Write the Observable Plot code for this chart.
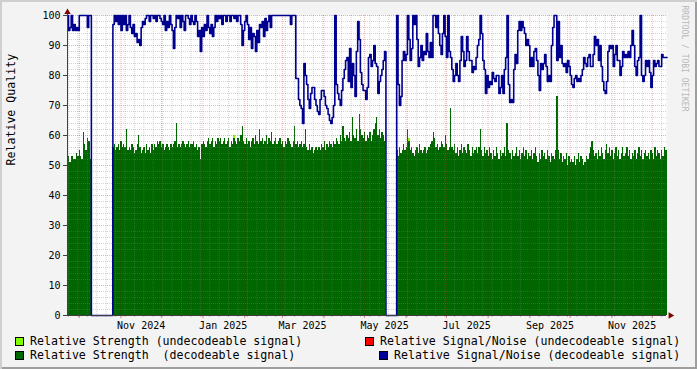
<!DOCTYPE html>
<html><head><meta charset="utf-8">
<script src="https://cdn.jsdelivr.net/npm/d3@7"></script>
<script src="https://cdn.jsdelivr.net/npm/@observablehq/plot@0.6"></script>
<style>
html,body{margin:0;padding:0;background:#f3f3f3;}
#wrap{position:relative;width:697px;height:369px;background:#f3f3f3;overflow:hidden;font-family:"DejaVu Sans Mono",monospace;color:#000;}
#wrap svg{display:block;}
.border{position:absolute;left:0;top:0;width:697px;height:369px;pointer-events:none;box-shadow:inset 2px 2px 0 #cfcfcf, inset -2px -2px 0 #9e9e9e;}
.sw{position:absolute;width:7px;height:7px;border:1px solid #000;}
.lt{position:absolute;white-space:pre;font-size:11.6px;line-height:14px;}
</style></head>
<body>
<div id="wrap"><div id="chart"></div><div id="legend"></div><div class="border"></div></div>
<script>
// ---- data (one value per day, starting 2024-09-22) ----
const DAY0 = Date.UTC(2024, 8, 22);
const strength = [
 52,53,51,53,53,52,52,54,53,55, 53,52,61,57,55,59,58,52,
 0,0,0,0,0,0,0,0,0,0,0,0,0,0,0,0,
 56,57,55,56,57,55,58,56,57,56, 62,55,56,55,57,56,54,55,57,60,
 56,54,55,56,54,57,55,56,54,57, 55,57,56,58,57,58,56,57,55,56,
 57,56,55,57,56,57,58,64,56,57, 56,57,58,57,56,57,58,56,57,57,
 58,56,57,55,56,52,57,58,57,56, 58,59,57,58,59,56,58,57,59,58,
 59,57,58,59,57,58,59,56,58,57, 59,58,57,59,58,60,63,58,57,59,
 57,58,56,
 58,59,57,60,58,57,62,58,59,57, 58,60,57,59,58,61,57,58,59,57,
 58,59,57,58,56,58,57,59,58,57, 56,58,63,57,58,56,57,58,56,57,
 62,56,55,57,55,56,54,55,56,55, 56,55,57,56,58,55,57,56,58,57,
 56,58,57,59,58,57,60,58,63,59, 58,60,59,61,58,66,60,59,62,58,
 67,62,60,59,61,58,60,59,61,58, 60,62,64,66,60,62,59,61,60,58,
 0,0,0,0,0,0,0,0,
 55,53,56,54,55,57,55,56,62,58, 55,56,54,53,55,56,54,57,55,54,
 55,56,54,55,56,57,58,61,59,56, 57,55,56,58,57,56,60,57,55,56,
 69,56,55,57,54,56,53,55,57,54, 56,55,54,57,55,53,56,54,55,56,
 54,56,62,55,53,56,54,55,53,56, 54,52,55,53,56,54,52,55,53,54,
 56,53,64,55,54,52,55,53,54,56, 53,55,52,54,56,53,55,52,54,53,
 55,52,54,56,53,51,54,52,55,53, 54,52,55,53,51,54,53,52,55,73,
 55,52,54,51,53,52,54,50,53,51, 52,51,53,50,52,54,51,53,52,50,
 51,53,52,54,56,58,55,53,54,52, 55,53,56,54,52,55,57,54,56,53,
 55,52,54,56,53,55,52,54,56,53, 54,56,53,55,52,54,53,55,52,54,
 56,53,55,52,54,55,53,54,52,55, 54,52,56,53,55,54,52,55,53,56,55
];
const signalNoise = [
 100,95,96,100,95,97,95,96,95,100, 100,100,100,100,100,96,100,100,
 0,0,0,0,0,0,0,0,0,0,0,0,0,0,0,0,
 97,100,98,100,97,100,
 95,100,97,100,95,97,100,96,94,97, 93,94,91,92,90,96,98,97,99,100,
 100,98,100,100,99,100,98,100,100,99, 98,97,100,95,98,96,100,97,95,89,
 96,100,99,100,96,100,98,95,100,100, 99,97,100,98,97,100,98,93,95,88,
 96,93,97,95,100,96,94,97,93,96, 100,98,100,99,100,97,100,100,98,100,
 100,98,100,100,99,100,98,100,100,97, 90,95,98,100,97,92,96,89,94,93,
 88,95,91,97,96,98,93,99,95,98, 100,96,100,100,100,100,100,100,100,100,
 100,100,100,100,100,100,97,100,100,100, 79,79,72,70,69,64,84,80,77,72,
 69,74,76,76,72,70,68,67,72,75, 75,73,70,69,67,65,64,66,70,100,
 77,74,72,70,75,79,82,85,86,78, 89,76,84,80,73,88,98,92,81,77,
 75,75,72,76,86,87,83,85,90,84, 83,74,78,80,82,85,88,
 0,0,0,0,0,0,0,0,
 100,77,70,73,85,
 88,85,87,100,92,85,89,100,97,100, 92,83,86,90,85,88,87,94,88,86,
 91,86,100,100,96,100,94,90,87,94, 100,93,86,100,88,86,82,78,80,84,
 80,78,85,93,88,83,85,93,88,85, 85,81,83,82,86,90,92,100,94,85,
 82,74,80,76,78,77,81,79,78,80, 80,74,76,80,74,82,86,100,77,71,
 72,71,82,87,84,95,98,95,98,96, 94,90,92,90,83,86,83,88,89,85,
 80,75,84,82,84,87,83,78,80,78, 90,96,100,100,85,98,86,90,84,83,
 84,81,85,83,80,77,76,79,80,78, 79,78,80,82,86,84,83,86,87,83,
 83,87,93,90,92,85,90,83,78,75, 74,78,88,90,89,90,83,87,90,85,
 85,80,83,88,86,87,86,88,86,90, 95,90,83,80,85,86,100,80,78,80,
 85,83,85,81,76,80,85,83,84,85, 83,83,87,86,86,86
];
const limeDays = [70, 124, 254];
const limeValues = [1, 1, 1];
const labelMonths = ["2024-11", "2025-01", "2025-03", "2025-05", "2025-07", "2025-09", "2025-11"];
const yTicks = [0, 10, 20, 30, 40, 50, 60, 70, 80, 90, 100];
const yMinor = [2,4,6,8,12,14,16,18,22,24,26,28,32,34,36,38,42,44,46,48,52,54,56,58,62,64,66,68,72,74,76,78,82,84,86,88,92,94,96,98];
const legendItems = [
  {label: "Relative Strength (undecodeable signal)", color: "#80ff00"},
  {label: "Relative Strength  (decodeable signal)", color: "#006600"},
  {label: "Relative Signal/Noise (undecodeable signal)", color: "#ff0000"},
  {label: "Relative Signal/Noise (decodeable signal)", color: "#000099"}
];

// ---- build ----
const day = d => new Date(DAY0 + d * 864e5);
const toSeries = arr => arr.map((v, i) => ({date: day(i), v})).concat([{date: day(arr.length), v: arr[arr.length - 1]}]);
const green = toSeries(strength);
const blue = toSeries(signalNoise);
const lime = limeDays.map((d, i) => ({x1: day(d), x2: day(d + 1), y1: strength[d], y2: strength[d] + limeValues[i]}));
const x0 = day(0.25), x1 = day(0.25 + 599 / 1.345);
const months = d3.utcMonth.range(x0, x1);
const weeks = d3.utcMonday.range(x0, x1).filter(w => w.getUTCDate() !== 1);
const labelDates = labelMonths.map(m => new Date(Date.parse(m + "-01T00:00:00Z") + 15 * 864e5));

const FONT = "DejaVu Sans Mono";
const chart = Plot.plot({
  width: 697, height: 332,
  marginLeft: 67, marginRight: 31, marginTop: 15, marginBottom: 17,
  style: {background: "transparent", fontFamily: FONT, color: "#000", overflow: "visible"},
  x: {type: "utc", domain: [x0, x1]},
  y: {type: "linear", domain: [0, 100]},
  marks: [
    Plot.frame({fill: "#ffffff", stroke: null}),
    Plot.areaY(green, {x: "date", y: "v", curve: "step-after", fill: "#006600", shapeRendering: "crispEdges"}),
    Plot.rect(lime, {x1: "x1", x2: "x2", y1: "y1", y2: "y2", fill: "#80ff00", shapeRendering: "crispEdges"}),
    Plot.gridY(yMinor, {stroke: "#808080", strokeOpacity: 0.35, strokeDasharray: "1,1"}),
    Plot.gridX(weeks, {stroke: "#808080", strokeOpacity: 0.35, strokeDasharray: "1,1"}),
    Plot.gridY(yTicks.filter(t => t > 0), {stroke: "#c00000", strokeOpacity: 0.3, strokeDasharray: "1,1"}),
    Plot.gridX(months, {stroke: "#c00000", strokeOpacity: 0.3, strokeDasharray: "1,1"}),
    Plot.lineY(blue, {x: "date", y: "v", curve: "step-after", stroke: "#000090", strokeWidth: 1.6}),
    Plot.ruleX(weeks, {x: d => d, y1: 0, y2: 0, insetBottom: -2, stroke: "#808080", strokeOpacity: 0.5}),
    Plot.ruleX(months, {x: d => d, y1: 0, y2: 0, insetBottom: -3, stroke: "#c00000", strokeOpacity: 0.5}),
    Plot.ruleY([0], {x1: x0, x2: x1, stroke: "#404040"}),
    Plot.ruleX([x0], {y1: 0, y2: 101.5, stroke: "#404040"}),
    Plot.dot([x0], {x: d => d, y: 100, dy: -3.3, symbol: "triangle", r: 2.4, fill: "#7f0000", stroke: null}),
    Plot.dot([x1], {x: d => d, y: 0, dx: 4, symbol: "triangle", rotate: 90, r: 2.4, fill: "#7f0000", stroke: null}),
    Plot.axisY(yTicks, {tickSize: 4, tickPadding: 3, fontSize: 10, stroke: "#404040", fill: "#000"}),
    Plot.axisX(labelDates, {tickSize: 0, tickPadding: 6, fontSize: 10, tickFormat: d3.utcFormat("%b %Y"), fill: "#000"}),
    Plot.text(["Relative Quality"], {frameAnchor: "left", rotate: -90, dx: -56, fontSize: 11.6, fill: "#000"}),
    Plot.text(["RRDTOOL / TOBI OETIKER"], {frameAnchor: "top-right", rotate: 90, dx: 21, dy: -10, textAnchor: "start", fontSize: 8, fill: "#b8b8b8"})
  ]
});
document.getElementById("chart").appendChild(chart);

// legend
const lg = document.getElementById("legend");
const pos = [
  {sx: 15, sy: 337, tx: 30, ty: 334},
  {sx: 15, sy: 351, tx: 30, ty: 348},
  {sx: 365, sy: 337, tx: 380, ty: 334},
  {sx: 379, sy: 351, tx: 394, ty: 348}
];
legendItems.forEach((it, i) => {
  const p = pos[i];
  const s = document.createElement("div");
  s.className = "sw"; s.style.left = p.sx + "px"; s.style.top = p.sy + "px"; s.style.background = it.color;
  const t = document.createElement("div");
  t.className = "lt"; t.style.left = p.tx + "px"; t.style.top = p.ty + "px"; t.textContent = it.label;
  lg.appendChild(s); lg.appendChild(t);
});
</script>
</body></html>
